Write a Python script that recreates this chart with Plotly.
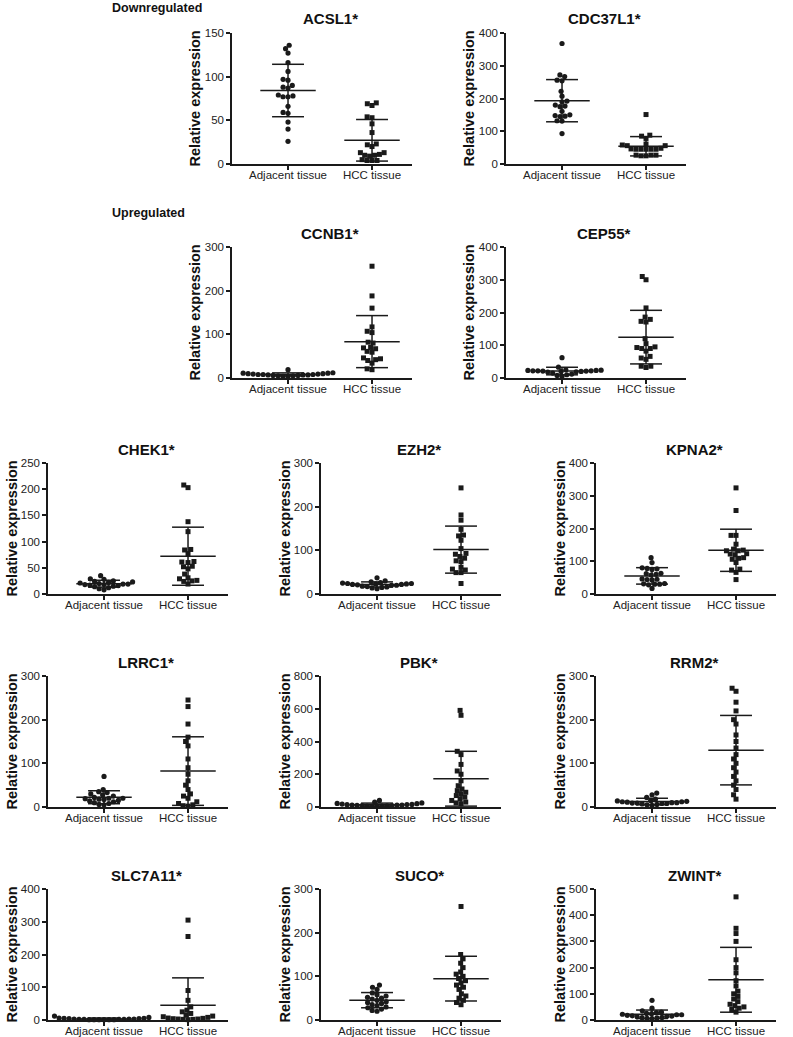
import numpy as np
import plotly.graph_objects as go

W, H = 793, 1037

genes = ["ACSL1*", "CDC37L1*", "CCNB1*", "CEP55*", "CHEK1*", "EZH2*", "KPNA2*",
         "LRRC1*", "PBK*", "RRM2*", "SLC7A11*", "SUCO*", "ZWINT*"]
groups = ["Adjacent tissue", "HCC tissue"]
y_max = [150, 400, 300, 400, 250, 300, 400, 300, 800, 300, 400, 300, 500]
y_step = [50, 100, 100, 100, 50, 100, 100, 100, 200, 100, 100, 100, 100]
section_labels = ["Downregulated", "Upregulated"]

acsl1_adj = [136, 132, 127, 116, 106, 97, 96, 90, 88, 87, 79, 78, 77, 77, 66, 59, 58, 48, 40, 26]
acsl1_hcc = [70, 69, 67, 54, 53, 46, 36, 23, 22, 20, 13, 13, 11, 10, 10, 9, 5, 4, 4, 4]
cdc37l1_adj = [368, 272, 267, 256, 254, 222, 207, 192, 190, 180, 177, 175, 161, 150, 148, 146, 145, 132, 131, 93]
cdc37l1_hcc = [151, 88, 85, 78, 61, 58, 56, 56, 48, 46, 45, 45, 45, 45, 45, 27, 27, 27, 25, 25]
ccnb1_adj = [19, 12, 11, 11, 10, 10, 9, 9, 8, 8, 8, 7, 7, 7, 6, 6, 5, 5, 4, 4]
ccnb1_hcc = [256, 188, 160, 117, 107, 104, 82, 80, 70, 69, 67, 61, 59, 46, 44, 42, 40, 34, 21, 19]
cep55_adj = [62, 33, 25, 24, 23, 23, 22, 22, 22, 21, 21, 20, 20, 19, 18, 15, 12, 10, 8, 5]
cep55_hcc = [310, 300, 214, 186, 179, 173, 171, 120, 105, 95, 93, 90, 90, 82, 66, 61, 57, 36, 36, 32]
chek1_adj = [35, 29, 28, 25, 24, 23, 22, 21, 20, 19, 19, 18, 18, 17, 16, 15, 14, 12, 10, 8]
chek1_hcc = [208, 203, 138, 119, 85, 84, 77, 62, 61, 60, 53, 52, 48, 38, 31, 29, 25, 24, 26, 19]
ezh2_adj = [37, 30, 28, 26, 25, 24, 24, 23, 23, 22, 22, 21, 20, 20, 18, 17, 16, 15, 14, 12]
ezh2_hcc = [243, 181, 169, 148, 135, 133, 123, 104, 93, 91, 86, 82, 76, 74, 61, 57, 55, 49, 49, 24]
kpna2_adj = [111, 96, 80, 78, 77, 75, 63, 62, 60, 58, 46, 45, 44, 43, 32, 31, 30, 30, 28, 17]
kpna2_hcc = [324, 255, 179, 179, 152, 137, 134, 132, 132, 123, 122, 120, 111, 109, 106, 96, 76, 73, 66, 44]
lrrc1_adj = [70, 40, 35, 33, 30, 28, 25, 22, 20, 20, 19, 18, 17, 15, 14, 12, 10, 8, 6, 5]
lrrc1_hcc = [245, 230, 190, 160, 150, 140, 110, 90, 75, 60, 50, 40, 30, 25, 20, 12, 8, 5, 3, 2]
pbk_adj = [40, 30, 25, 22, 20, 18, 16, 15, 14, 12, 12, 11, 10, 9, 8, 7, 6, 5, 4, 3]
pbk_hcc = [590, 560, 340, 320, 260, 220, 200, 160, 130, 110, 100, 90, 80, 70, 60, 50, 40, 30, 25, 20]
rrm2_adj = [32, 28, 22, 18, 15, 14, 13, 12, 12, 11, 10, 10, 9, 9, 8, 8, 7, 6, 5, 4]
rrm2_hcc = [272, 265, 240, 220, 200, 190, 165, 150, 135, 120, 110, 100, 90, 80, 70, 60, 50, 40, 28, 18]
slc7a11_adj = [12, 8, 6, 5, 5, 4, 4, 3, 3, 3, 2, 2, 2, 2, 1, 1, 1, 1, 1, 1]
slc7a11_hcc = [305, 255, 90, 60, 40, 30, 25, 20, 15, 12, 10, 8, 6, 5, 4, 3, 3, 2, 2, 1]
suco_adj = [80, 75, 70, 62, 58, 55, 52, 50, 48, 45, 42, 40, 38, 35, 33, 30, 28, 25, 22, 20]
suco_hcc = [260, 150, 140, 130, 120, 110, 105, 100, 95, 90, 85, 80, 75, 70, 60, 55, 50, 45, 40, 35]
zwint_adj = [75, 45, 35, 30, 28, 25, 24, 22, 20, 20, 18, 16, 15, 14, 12, 10, 9, 8, 6, 5]
zwint_hcc = [470, 350, 330, 300, 230, 200, 180, 150, 130, 110, 100, 90, 80, 70, 60, 55, 50, 45, 40, 30]

adjacent = [acsl1_adj, cdc37l1_adj, ccnb1_adj, cep55_adj, chek1_adj, ezh2_adj, kpna2_adj,
            lrrc1_adj, pbk_adj, rrm2_adj, slc7a11_adj, suco_adj, zwint_adj]
hcc = [acsl1_hcc, cdc37l1_hcc, ccnb1_hcc, cep55_hcc, chek1_hcc, ezh2_hcc, kpna2_hcc,
       lrrc1_hcc, pbk_hcc, rrm2_hcc, slc7a11_hcc, suco_hcc, zwint_hcc]

# ---- layout geometry (pixels) ----
PLOT_W, PLOT_H = 180, 131
X_RANGE = [-0.667, 1.476]
panel_pos = [(232, 33), (506, 33), (232, 247), (506, 247),
             (48, 463), (321, 463), (596, 463),
             (48, 676), (321, 676), (596, 676),
             (48, 889), (321, 889), (596, 889)]

FONT = "Arial, Liberation Sans, sans-serif"
INK = "#1a1a1a"
MARK_D = 5.0


def swarm(vals, ppu_y, ppu_x, d):
    vals = np.asarray(vals, dtype=float)
    order = np.argsort(vals, kind="stable")
    placed = []
    xs = np.zeros(len(vals))
    for i in order:
        y = vals[i] * ppu_y
        intervals = []
        for px, py in placed:
            dy = abs(py - y)
            if dy < d:
                dx = np.sqrt(d * d - dy * dy)
                intervals.append((px - dx, px + dx))
        cands = [0.0] + [a for a, b in intervals] + [b for a, b in intervals]
        cands.sort(key=lambda c: (abs(c), c))
        chosen = 0.0
        for c in cands:
            if all(not (a + 1e-6 < c < b - 1e-6) for a, b in intervals):
                chosen = c
                break
        xs[i] = chosen / ppu_x
        placed.append((chosen, y))
    return xs


fig = go.Figure()
annotations = []
ppu_x = PLOT_W / (X_RANGE[1] - X_RANGE[0])

for k, gene in enumerate(genes):
    n = k + 1
    xa = "x" if n == 1 else f"x{n}"
    ya = "y" if n == 1 else f"y{n}"
    x0, top = panel_pos[k]
    ppu_y = PLOT_H / y_max[k]

    for gi, (vals, sym) in enumerate([(adjacent[k], "circle"), (hcc[k], "square")]):
        jit = swarm(vals, ppu_y, ppu_x, MARK_D)
        fig.add_trace(go.Scatter(
            x=gi + jit, y=vals, mode="markers", xaxis=xa, yaxis=ya,
            marker=dict(symbol=sym, size=5.2 if sym == "circle" else 5, color=INK,
                        line=dict(width=0)),
            cliponaxis=False, showlegend=False, hoverinfo="y"))

    # mean +/- SD bars
    ex, ey = [], []
    for gi, vals in enumerate([adjacent[k], hcc[k]]):
        m = float(np.mean(vals))
        s = float(np.std(vals, ddof=1))
        ex += [gi - 0.33, gi + 0.33, None,
               gi - 0.19, gi + 0.19, None,
               gi - 0.19, gi + 0.19, None,
               gi, gi, None]
        ey += [m, m, None, m + s, m + s, None, m - s, m - s, None, m - s, m + s, None]
    fig.add_trace(go.Scatter(x=ex, y=ey, mode="lines", xaxis=xa, yaxis=ya,
                             line=dict(color=INK, width=1.5), showlegend=False,
                             hoverinfo="skip"))

    xd = [x0 / W, (x0 + PLOT_W) / W]
    yd = [1 - (top + PLOT_H) / H, 1 - top / H]
    fig.layout[f"xaxis{'' if n == 1 else n}"] = dict(
        domain=xd, anchor=ya, range=X_RANGE, tickvals=[0, 1], ticktext=groups,
        showline=True, linecolor=INK, linewidth=1.5, ticks="outside", ticklen=4,
        tickwidth=1.5, tickcolor=INK, showgrid=False, zeroline=False, automargin=False,
        ticklabelstandoff=-5,
        tickfont=dict(family=FONT, size=11.5, color="#222"), fixedrange=True)
    fig.layout[f"yaxis{'' if n == 1 else n}"] = dict(
        domain=yd, anchor=xa, range=[0, y_max[k]], dtick=y_step[k], tick0=0,
        showline=True, linecolor=INK, linewidth=1.5, ticks="outside", ticklen=4,
        tickwidth=1.5, tickcolor=INK, showgrid=False, zeroline=False, automargin=False,
        tickfont=dict(family=FONT, size=11.5, color="#222"), fixedrange=True)

    annotations.append(dict(
        text=f"<b>{gene}</b>", x=(x0 + 98) / W, y=1 - (top - 14) / H,
        xref="paper", yref="paper", xanchor="center", yanchor="middle",
        showarrow=False, font=dict(family=FONT, size=15, color="#111")))
    annotations.append(dict(
        text="<b>Relative expression</b>", x=(x0 - 37) / W, y=1 - (top + PLOT_H / 2) / H,
        xref="paper", yref="paper", xanchor="center", yanchor="middle", textangle=-90,
        showarrow=False, font=dict(family=FONT, size=14.5, color="#111")))

for lbl, ypx in zip(section_labels, [8, 213]):
    annotations.append(dict(
        text=f"<b>{lbl}</b>", x=110 / W, y=1 - ypx / H, xref="paper", yref="paper",
        xanchor="left", yanchor="middle", showarrow=False,
        font=dict(family=FONT, size=12.5, color="#111")))

fig.update_layout(width=W, height=H,
                  margin=dict(l=0, r=0, t=0, b=0, pad=0, autoexpand=False),
                  paper_bgcolor="white", plot_bgcolor="white",
                  annotations=annotations, showlegend=False)

fig.write_html(
    "out.html",
    config={"displayModeBar": False},
    post_script=(
        "var s=document.documentElement.style;s.margin='0';s.padding='0';"
        "s.height='1037px';s.overflow='hidden';"
        "var b=document.body.style;b.margin='0';b.padding='0';"
        "b.height='1037px';b.overflow='hidden';"
    ),
)
